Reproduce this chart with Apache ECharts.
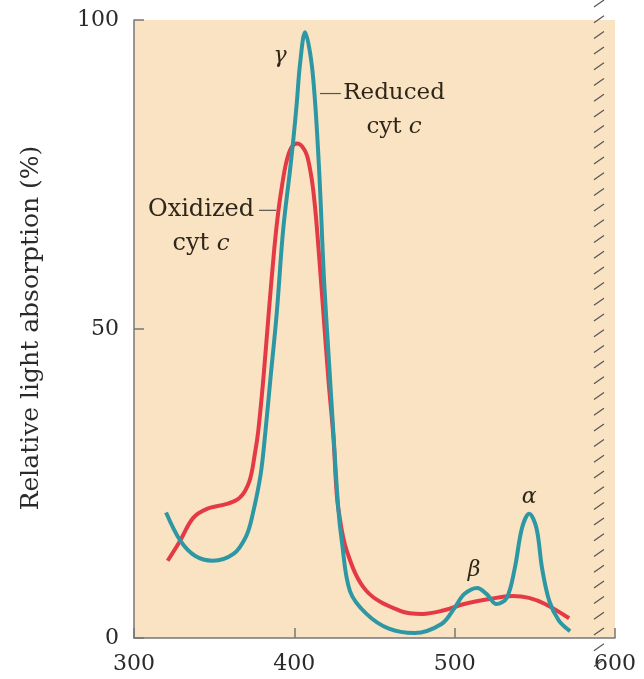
<!DOCTYPE html>
<html>
<head>
<meta charset="utf-8">
<script src="https://cdn.jsdelivr.net/npm/echarts@6/dist/echarts.min.js"></script>
<style>
  html, body { margin: 0; padding: 0; background: #fff; }
  #main { width: 644px; height: 679px; }
</style>
</head>
<body>
<div id="main"></div>
<script>
// absorption spectra of cytochrome c
var reducedX = [320, 329, 338, 349, 362, 370, 374, 379, 382, 385, 389, 393, 397.3, 399.5, 401.5, 403.6, 406.7,
  410.5, 413, 415, 416.5, 418.5, 421.3, 424.4, 427.4, 429.6, 434.7, 445, 459, 475, 492, 500, 506, 514, 520,
  526, 532.5, 537.5, 542, 546.5, 551, 554.5, 559, 565, 572];
var reducedY = [20.3, 15.7, 13.3, 12.5, 13.6, 16.5, 20, 26.5, 33.5, 41.7, 52.5, 66, 75.7, 81, 86.5, 93, 98,
  93.5, 86.5, 78, 70, 58, 46, 33, 21, 15.7, 7.6, 3.9, 1.5, 0.8, 2.3, 4.9, 7.1, 8.1, 7.1,
  5.5, 6.5, 11.3, 17.8, 20.1, 17.8, 11.3, 6, 2.8, 1.1];

var oxidizedX = [321, 328.7, 336.8, 345.5, 358, 366, 372, 375.5, 377.5, 380.6, 384, 387.5, 390, 392.5, 395,
  398, 401.7, 405, 408, 411, 413, 414.8, 418, 421.3, 424.4, 426, 427.4, 432.7, 445, 466, 480, 492, 506,
  521.5, 536, 546.4, 556.4, 571.4];
var oxidizedY = [12.5, 15.7, 19.4, 20.9, 21.7, 22.7, 25.4, 30, 33.5, 41.7, 52.5, 63, 69, 73.5, 77,
  79.3, 80, 79.5, 78, 74, 69.5, 64, 53, 41.7, 32.4, 25, 21, 14.1, 7.6, 4.4, 3.9, 4.4, 5.5,
  6.3, 6.8, 6.5, 5.5, 3.2];

var xTicks = [300, 400, 500, 600];
var yTicks = [0, 50, 100];
var hatchX = [590];

var serif = 'DejaVu Serif';
var ink = '#2e2619';

function pairs(xs, ys) {
  return xs.map(function (x, i) { return [x, ys[i]]; });
}

var chart = echarts.init(document.getElementById('main'));

var option = {
  animation: false,
  grid: {
    left: 134, right: 29, top: 20, bottom: 41,
    show: true, backgroundColor: '#fae3c3', borderWidth: 0
  },
  xAxis: {
    type: 'value', min: xTicks[0], max: xTicks[xTicks.length - 1], interval: 100,
    axisLine: { show: true, lineStyle: { color: '#777', width: 1.5 } },
    axisTick: { show: true, inside: true, length: 10, lineStyle: { color: '#777', width: 1.5 } },
    axisLabel: { fontFamily: serif, fontSize: 22, color: '#2a2a2a', margin: 15 },
    splitLine: { show: false }
  },
  yAxis: {
    type: 'value', min: yTicks[0], max: yTicks[yTicks.length - 1], interval: 50,
    axisLine: { show: true, lineStyle: { color: '#777', width: 1.5 } },
    axisTick: { show: true, inside: true, length: 10, lineStyle: { color: '#777', width: 1.5 } },
    axisLabel: { fontFamily: serif, fontSize: 22, color: '#2a2a2a', margin: 15 },
    splitLine: { show: false }
  },
  series: [
    {
      name: 'Oxidized cyt c', type: 'line', smooth: 0.35, symbol: 'none',
      data: pairs(oxidizedX, oxidizedY),
      lineStyle: { color: '#e43a45', width: 4 }, z: 3
    },
    {
      name: 'Reduced cyt c', type: 'line', smooth: 0.35, symbol: 'none',
      data: pairs(reducedX, reducedY),
      lineStyle: { color: '#2e97a4', width: 4 }, z: 4
    },
    {
      // hatched edge at the right
      type: 'custom', clip: false, silent: true, z: 10,
      data: hatchX.map(function (x) { return [x, 0]; }),
      renderItem: function (params, api) {
        var p = api.coord([api.value(0), 0]);
        var kids = [];
        for (var y = 3; y < 670; y += 15.7) {
          kids.push({
            type: 'line',
            shape: { x1: p[0] - 5, y1: y + 4, x2: p[0] + 5, y2: y - 3 },
            style: { stroke: '#555', lineWidth: 1.2 }
          });
        }
        return { type: 'group', children: kids };
      }
    }
  ]
};

chart.setOption(option);

// annotations placed in data coordinates
function px(x, y) { return chart.convertToPixel({ gridIndex: 0 }, [x, y]); }

function label(x, y, text, extra) {
  var p = px(x, y);
  var style = Object.assign({
    text: text, fontFamily: serif, fontSize: 23, fill: ink,
    textAlign: 'center', textVerticalAlign: 'middle'
  }, extra || {});
  return { type: 'text', x: p[0], y: p[1], style: style, z: 20 };
}

function leader(x1, x2, y) {
  var a = px(x1, y), b = px(x2, y);
  return { type: 'line', shape: { x1: a[0], y1: a[1], x2: b[0], y2: b[1] },
    style: { stroke: '#555', lineWidth: 1.2 }, z: 20 };
}

var rich = {
  i: { fontFamily: serif, fontSize: 23, fontStyle: 'italic', fill: ink }
};

chart.setOption({
  graphic: [
    {
      type: 'text', x: 31, y: 328, rotation: Math.PI / 2,
      style: { text: 'Relative light absorption (%)', fontFamily: serif, fontSize: 25,
        fill: '#2a2a2a', textAlign: 'center', textVerticalAlign: 'middle' }
    },
    label(391.1, 94.1, 'γ', { fontStyle: 'italic', fontSize: 22 }),
    label(462.2, 85.4, 'Reduced\ncyt {i|c}', { rich: rich, lineHeight: 34 }),
    leader(416, 429, 88.1),
    label(341.8, 66.5, 'Oxidized\ncyt {i|c}', { rich: rich, lineHeight: 34, fontSize: 24 }),
    leader(378, 388.6, 69.2),
    label(512.1, 10.9, 'β', { fontStyle: 'italic', fontSize: 22 }),
    label(546.4, 22.7, 'α', { fontStyle: 'italic', fontSize: 22 })
  ]
});
</script>
</body>
</html>
